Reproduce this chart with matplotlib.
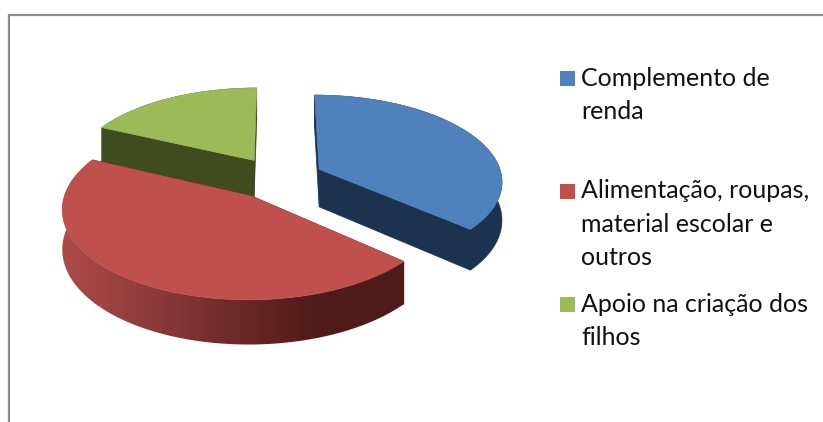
import numpy as np
import matplotlib
matplotlib.use("Agg")
import matplotlib.pyplot as plt
from matplotlib.colors import LinearSegmentedColormap
from matplotlib.patches import Polygon, Rectangle

labels = ["Complemento de\nrenda", "Alimentação, roupas,\nmaterial escolar e\noutros", "Apoio na criação dos\nfilhos"]
values = [36.5, 45.5, 18]
top_colors = ["#4f81bd", "#bf504d", "#9bbb59"]
wall_colors = ["#1c334f", "#4f1b19", "#404c20"]
draw_order = [2, 0, 1]

CX, CY = 278, 178
A, B, K = 183, 85.5, 0.125
EXPLODE = 0.25
DEPTH = 38
LEGEND_Y = [65, 178, 291]

red_wall = LinearSegmentedColormap.from_list(
    "red_wall", ["#ad4b48", "#8e3c3a", "#6d2a28", "#4f1b19", "#4f1b19"]
)


def project(u, v, drop=0.0):
    s = 1 / (1 - K * v)
    return CX + A * u * s, CY + (B * v + drop) * s


def slice_outline(start, end, mid):
    # angles run clockwise from 12 o'clock, v grows towards the viewer
    t = np.radians(np.linspace(start, end, 120))
    m = np.radians(mid)
    du, dv = EXPLODE * np.sin(m), -EXPLODE * np.cos(m)
    return du, dv, du + np.sin(t), dv - np.cos(t)


fig = plt.figure(figsize=(8.23, 4.22), dpi=100)
ax = fig.add_axes([0, 0, 1, 1])
ax.axis("off")

# chart frame, cut off by the edges of the picture
ax.plot([9.5, 9.5, 823], [422, 14.5, 14.5], color="#8c8c8c", lw=1.6, solid_joinstyle="miter")

edges = np.cumsum([0] + values) / sum(values) * 360
for i in draw_order:
    start, end = edges[i], edges[i + 1]
    du, dv, u, v = slice_outline(start, end, (start + end) / 2)
    ax_apex = project(du, dv)
    ax_apex_low = project(du, dv, DEPTH)
    rim = np.column_stack(project(u, v))
    rim_low = np.column_stack(project(u, v, DEPTH))

    # flat cut faces
    for k in (0, -1):
        face = [ax_apex, rim[k], rim_low[k], ax_apex_low]
        ax.add_patch(Polygon(face, closed=True, fc=wall_colors[i], ec=wall_colors[i], lw=0.5))

    # outer wall
    wall = np.vstack([rim, rim_low[::-1]])
    if i == 1:
        clip = Polygon(wall, closed=True, fc="none", ec="none", transform=ax.transData)
        ax.add_patch(clip)
        x0, x1 = wall[:, 0].min(), wall[:, 0].max()
        y0, y1 = wall[:, 1].min(), wall[:, 1].max()
        img = ax.imshow(
            np.linspace(0, 1, 256).reshape(1, -1),
            cmap=red_wall,
            extent=[x0, x1, y1, y0],
            aspect="auto",
            zorder=1,
        )
        img.set_clip_path(clip)
    else:
        ax.add_patch(Polygon(wall, closed=True, fc=wall_colors[i], ec=wall_colors[i], lw=0.5, zorder=1))

    # top face
    top = np.vstack([[ax_apex], rim])
    ax.add_patch(Polygon(top, closed=True, fc=top_colors[i], ec=top_colors[i], lw=0.5, zorder=2))

    # later slices must cover earlier ones, so raise each group together
    for artist in ax.patches[-4:] + ax.images[-1:]:
        artist.set_zorder(artist.get_zorder() + 3 * draw_order.index(i))

for label, color, y in zip(labels, top_colors, LEGEND_Y):
    ax.add_patch(Rectangle((560, y + 6), 15, 15, fc=color, ec="none"))
    ax.text(581, y + 1.5, label, family="Lato", fontsize=18, color="#111111", va="top", ha="left", linespacing=1.53)

ax.set_xlim(0, 823)
ax.set_ylim(422, 0)
fig.savefig("out.png", dpi=100)
